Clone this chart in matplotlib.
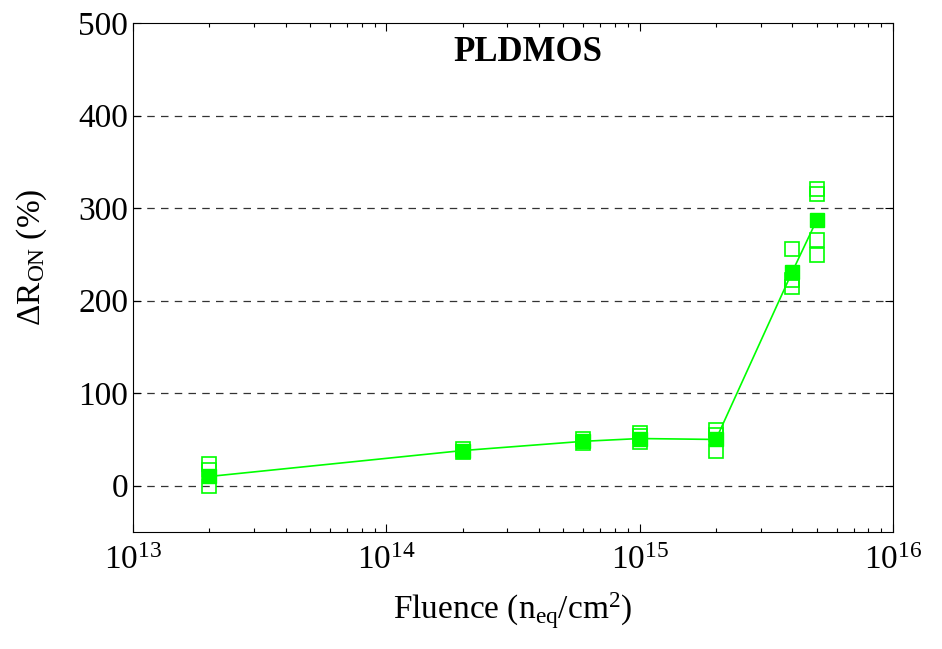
import matplotlib
matplotlib.use("Agg")
import matplotlib.pyplot as plt
import numpy as np

plt.rcParams['font.family'] = ['Liberation Serif', 'DejaVu Serif']
plt.rcParams['mathtext.fontset'] = 'custom'
plt.rcParams['mathtext.rm'] = 'Liberation Serif'
plt.rcParams['mathtext.it'] = 'Liberation Serif:italic'

# mean values (filled squares)
fluence = [2e13, 2e14, 6e14, 1e15, 2e15, 4e15, 5e15]
mean_dr = [10, 38, 48, 51, 50, 231, 287]

# individual samples (open squares)
samp_x = [2e13, 2e13, 2e13,
          2e14, 2e14,
          6e14, 6e14,
          1e15, 1e15, 1e15,
          2e15, 2e15, 2e15,
          4e15, 4e15, 4e15,
          5e15, 5e15, 5e15, 5e15]
samp_y = [23, 17, 0,
          36, 40,
          46, 50,
          57, 54, 47,
          60, 55, 38,
          256, 222, 215,
          321, 315, 266, 249]

green = (0.0, 1.0, 0.0)

fig = plt.figure(figsize=(9.42, 6.49), dpi=100)
ax = fig.add_axes([133 / 942, 1 - 532 / 649, (893 - 133) / 942, (532 - 23) / 649])

# grid lines at y ticks
for yv in [0, 100, 200, 300, 400]:
    ax.axhline(yv, color='#333333', linestyle=(0, (6, 5)), linewidth=0.9, zorder=1)

ax.plot(samp_x, samp_y, 's', markersize=10, markerfacecolor='none',
        markeredgecolor=green, markeredgewidth=1.2, linestyle='none', zorder=3)
ax.plot(fluence, mean_dr, '-', color=green, linewidth=1.2, zorder=3)
ax.plot(fluence, mean_dr, 's', markersize=10, color=green, zorder=4)

ax.set_xscale('log')
ax.set_xlim(1e13, 1e16)
ax.set_ylim(-50, 500)
ax.set_yticks([0, 100, 200, 300, 400, 500])

ax.tick_params(which='both', direction='in', top=True, right=True, labelsize=24)
ax.tick_params(which='major', length=6, width=0.8)
ax.tick_params(which='minor', length=3, width=0.8)
ax.tick_params(axis='x', pad=10)
ax.tick_params(axis='y', which='minor', left=False, right=False)
for s in ax.spines.values():
    s.set_linewidth(0.8)

ax.set_xlabel(r'Fluence (n$_{\rm eq}$/cm$^{2}$)', fontsize=24)
ax.xaxis.set_label_coords(0.5, -0.115, transform=ax.transAxes)
ax.xaxis.label.set_va('top')
ax.set_ylabel(r'$\Delta$R$_{\rm ON}$ (%)', fontsize=24)
ax.yaxis.set_label_coords(-0.11, 0.54, transform=ax.transAxes)
ax.text(0.52, 0.975, 'PLDMOS', transform=ax.transAxes, ha='center', va='top',
        fontsize=25, fontweight='bold')

fig.savefig('out.png', dpi=100)
